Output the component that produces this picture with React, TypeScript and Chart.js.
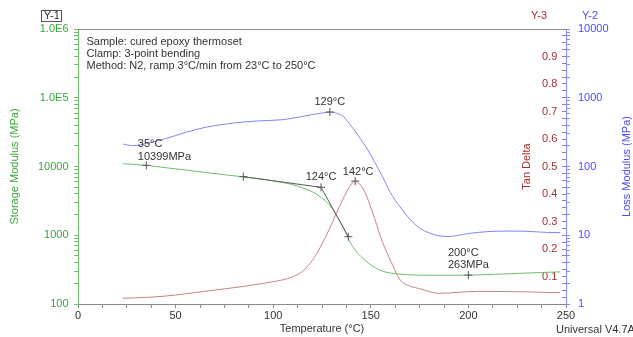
import { useEffect, useRef } from 'react';
import { Chart, registerables } from 'chart.js';

Chart.register(...registerables);

// ---------- data ----------
const TEMPS = [23, 28, 35, 45, 55, 65, 75, 85, 95, 105, 110, 115, 120, 124, 129, 132, 136, 139, 142, 145, 148, 152, 156, 160, 165, 170, 175, 180, 185, 190, 200, 210, 220, 230, 240, 247];
const STORAGE = [11000, 10750, 10399, 9600, 8900, 8200, 7600, 7050, 6500, 5850, 5450, 4900, 4300, 3650, 2700, 2050, 1280, 840, 610, 490, 410, 340, 300, 282, 272, 266, 263, 262, 262, 262, 263, 268, 275, 282, 289, 293];
const LOSS = [212, 201, 215, 255, 312, 370, 412, 445, 464, 480, 505, 535, 570, 592, 620, 600, 530, 420, 326, 244, 184, 115, 71, 42, 25.8, 17.2, 12.7, 10.8, 9.8, 9.6, 10.6, 11.3, 11.5, 11.4, 11.0, 10.9];
const TAN = [0.021, 0.022, 0.024, 0.029, 0.037, 0.046, 0.055, 0.064, 0.075, 0.088, 0.099, 0.119, 0.158, 0.205, 0.276, 0.324, 0.385, 0.425, 0.447, 0.43, 0.39, 0.31, 0.225, 0.16, 0.088, 0.065, 0.056, 0.045, 0.039, 0.04, 0.045, 0.046, 0.045, 0.044, 0.042, 0.041];

const TANGENT_T = [84.7, 124.5, 138.5];
const TANGENT_E = [7110, 4980, 952];

const STORAGE_MARK_T = [35, 84.7, 124.5, 138.5, 200];
const STORAGE_MARK_E = [10399, 7110, 4980, 952, 263];
const LOSS_MARK_T = [129];
const LOSS_MARK_E = [620];
const TAN_MARK_T = [142];
const TAN_MARK_V = [0.447];

const X_MAJOR = [0, 50, 100, 150, 200, 250];
const Y1_TICK_VALUES = [100, 1000, 10000, 100000, 1000000];
const Y1_TICK_LABELS = ['100', '1000', '10000', '1.0E5', '1.0E6'];
const Y2_TICK_VALUES = [1, 10, 100, 1000, 10000];
const Y2_TICK_LABELS = ['1', '10', '100', '1000', '10000'];
const Y3_TICK_VALUES = [0.1, 0.2, 0.3, 0.4, 0.5, 0.6, 0.7, 0.8, 0.9];
const Y3_TICK_LABELS = ['0.1', '0.2', '0.3', '0.4', '0.5', '0.6', '0.7', '0.8', '0.9'];

const HEADER_LINES = [
  'Sample: cured epoxy thermoset',
  'Clamp: 3-point bending',
  'Method: N2, ramp 3°C/min from 23°C to 250°C',
];

// annotation texts anchored on data points
const ANNOTATIONS = [
  { axis: 'y1', x: 35, y: 10399, lines: ['35°C', '10399MPa'] },
  { axis: 'y2', x: 129, y: 620, lines: ['129°C'] },
  { axis: 'y1', x: 124.5, y: 4980, lines: ['124°C'] },
  { axis: 'y3', x: 142, y: 0.447, lines: ['142°C'] },
  { axis: 'y1', x: 200, y: 263, lines: ['200°C', '263MPa'] },
];
// layout for each annotation (pixel offsets)
const ANNOT_LAYOUT = [
  { align: 'left', dx: -8.5, dy: -21, lh: 12.5 },
  { align: 'center', dx: 0, dy: -10, lh: 12 },
  { align: 'center', dx: 0, dy: -10, lh: 12 },
  { align: 'center', dx: 3, dy: -9.5, lh: 12 },
  { align: 'left', dx: -20.5, dy: -22, lh: 12 },
];

// ---------- styles ----------
const FONT = '"Liberation Sans", Arial, Helvetica, sans-serif';
const GREEN = '#3aa63a';
const GREEN_LINE = '#6cbf6c';
const BLUE = '#4b4bff';
const BLUE_LINE = '#8383f6';
const BLUE_AXIS = '#8c8cff';
const RED = '#a33030';
const RED_LINE = '#c98282';
const GRAY = '#8a8a8a';
const TEXT = '#333333';
const MARK = '#555555';

function logTicks(min: number, max: number) {
  const out: { value: number }[] = [];
  const e0 = Math.round(Math.log10(min));
  const e1 = Math.round(Math.log10(max));
  for (let e = e0; e < e1; e++) {
    const p = Math.pow(10, e);
    for (let m = 1; m < 10; m++) out.push({ value: m * p });
  }
  out.push({ value: max });
  return out;
}

function labelFor(value: number, values: number[], labels: string[]) {
  for (let i = 0; i < values.length; i++) {
    if (Math.abs(value - values[i]) <= Math.abs(values[i]) * 1e-6) return labels[i];
  }
  return '';
}

const overlay = {
  id: 'overlay',
  afterDraw(chart: any) {
    const { ctx, chartArea: ca, scales } = chart;
    ctx.save();
    // top frame line
    ctx.strokeStyle = GRAY;
    ctx.lineWidth = 1;
    ctx.beginPath();
    ctx.moveTo(ca.left, Math.round(ca.top) + 0.5);
    ctx.lineTo(ca.right, Math.round(ca.top) + 0.5);
    ctx.stroke();

    ctx.font = `11px ${FONT}`;
    ctx.textBaseline = 'middle';
    ctx.fillStyle = TEXT;
    ctx.textAlign = 'left';
    HEADER_LINES.forEach((t, i) => ctx.fillText(t, ca.left + 8.5, ca.top + 12.7 + i * 12));

    ANNOTATIONS.forEach((a, k) => {
      const lay = ANNOT_LAYOUT[k];
      const px = scales.x.getPixelForValue(a.x);
      const py = scales[a.axis].getPixelForValue(a.y);
      ctx.textAlign = lay.align;
      a.lines.forEach((t, i) => ctx.fillText(t, px + lay.dx, py + lay.dy + i * lay.lh));
    });

    // axis ids
    ctx.textAlign = 'center';
    ctx.fillStyle = TEXT;
    ctx.fillText('Y-1', 51.7, 16.2);
    ctx.strokeStyle = '#555';
    ctx.strokeRect(41.5, 10.5, 20, 11);
    ctx.fillStyle = RED;
    ctx.fillText('Y-3', 539, 16.2);
    ctx.fillStyle = BLUE;
    ctx.fillText('Y-2', 590, 16.2);

    // right axis titles (bottom-to-top)
    const rot = (t: string, x: number, y: number, c: string) => {
      ctx.save();
      ctx.translate(x, y);
      ctx.rotate(-Math.PI / 2);
      ctx.fillStyle = c;
      ctx.textAlign = 'center';
      ctx.fillText(t, 0, 0);
      ctx.restore();
    };
    const cy = (ca.top + ca.bottom) / 2;
    rot('Tan Delta', ca.right - 39.5, cy, RED);
    rot('Loss Modulus (MPa)', ca.right + 61, cy, BLUE);

    ctx.fillStyle = TEXT;
    ctx.textAlign = 'left';
    ctx.fillText('Universal V4.7A', 556, 329.5);
    ctx.restore();
  },
};

export default function App() {
  const ref = useRef<HTMLCanvasElement | null>(null);

  useEffect(() => {
    document.body.style.margin = '0';
    if (!ref.current) return;
    Chart.defaults.font.family = FONT;
    Chart.defaults.font.size = 11;

    const pts = (xs: number[], ys: number[]) => xs.map((x, i) => ({ x, y: ys[i] }));
    const markStyle = {
      showLine: false,
      pointStyle: 'cross',
      pointRadius: 4,
      pointBorderWidth: 1,
      pointBorderColor: MARK,
      borderColor: MARK,
    };

    const chart = new Chart(ref.current, {
      type: 'line',
      data: {
        datasets: [
          { ...markStyle, data: pts(STORAGE_MARK_T, STORAGE_MARK_E), yAxisID: 'y1' },
          { ...markStyle, data: pts(LOSS_MARK_T, LOSS_MARK_E), yAxisID: 'y2' },
          { ...markStyle, data: pts(TAN_MARK_T, TAN_MARK_V), yAxisID: 'y3' },
          {
            data: pts(TANGENT_T, TANGENT_E), yAxisID: 'y1', borderColor: '#5a5a5a',
            borderWidth: 1, pointRadius: 0, tension: 0,
          },
          {
            data: pts(TEMPS, STORAGE), yAxisID: 'y1', borderColor: GREEN_LINE,
            borderWidth: 1, pointRadius: 0, cubicInterpolationMode: 'monotone',
          },
          {
            data: pts(TEMPS, LOSS), yAxisID: 'y2', borderColor: BLUE_LINE,
            borderWidth: 1, pointRadius: 0, cubicInterpolationMode: 'monotone',
          },
          {
            data: pts(TEMPS, TAN), yAxisID: 'y3', borderColor: RED_LINE,
            borderWidth: 1, pointRadius: 0, cubicInterpolationMode: 'monotone',
          },
        ],
      } as any,
      options: {
        animation: false,
        responsive: true,
        maintainAspectRatio: false,
        events: [],
        layout: { padding: { top: 29, left: 0, right: 0, bottom: 0 } },
        plugins: { legend: { display: false }, tooltip: { enabled: false } },
        scales: {
          x: {
            type: 'linear',
            position: 'bottom',
            min: 0,
            max: 250,
            afterFit: (s: any) => { s.height = 33; },
            afterBuildTicks: (s: any) => {
              const t: { value: number }[] = [];
              for (let i = 0; i <= 20; i++) t.push({ value: i * 12.5 });
              s.ticks = t;
            },
            ticks: {
              autoSkip: false,
              maxRotation: 0,
              padding: 1,
              color: TEXT,
              font: { size: 11 },
              callback: (v: any) => (X_MAJOR.includes(Number(v)) ? String(v) : ''),
            },
            grid: { drawOnChartArea: false, drawTicks: true, tickLength: 4, color: GRAY },
            border: { color: GRAY },
            title: { display: true, text: 'Temperature (°C)', color: TEXT, font: { size: 11 }, padding: { top: 0, bottom: 1 } },
          },
          y1: {
            type: 'logarithmic',
            position: 'left',
            min: 100,
            max: 1000000,
            afterFit: (s: any) => { s.width = 78; },
            afterBuildTicks: (s: any) => { s.ticks = logTicks(100, 1000000); },
            ticks: {
              autoSkip: false,
              padding: 5.5,
              color: GREEN,
              font: { size: 11 },
              callback: (v: any) => labelFor(Number(v), Y1_TICK_VALUES, Y1_TICK_LABELS),
            },
            grid: { drawOnChartArea: false, drawTicks: true, tickLength: 4, color: GREEN_LINE },
            border: { color: GREEN_LINE },
            title: { display: true, text: 'Storage Modulus (MPa)', color: GREEN, font: { size: 11 }, padding: { top: 8.4, bottom: 0 } },
          },
          y3: {
            type: 'linear',
            position: 'right',
            weight: 0,
            min: 0,
            max: 1,
            afterFit: (s: any) => { s.width = 0; },
            afterBuildTicks: (s: any) => {
              const t: { value: number }[] = [];
              for (let i = 0; i <= 40; i++) t.push({ value: i / 40 });
              s.ticks = t;
            },
            ticks: {
              autoSkip: false,
              mirror: true,
              padding: -8.7,
              color: RED,
              font: { size: 11 },
              callback: (v: any) => labelFor(Number(v), Y3_TICK_VALUES, Y3_TICK_LABELS),
            },
            grid: { drawOnChartArea: false, drawTicks: true, tickLength: -4, color: '#8080d8' },
            border: { display: false },
          },
          y2: {
            type: 'logarithmic',
            position: 'right',
            weight: 1,
            min: 1,
            max: 10000,
            afterFit: (s: any) => { s.width = 67; },
            afterBuildTicks: (s: any) => { s.ticks = logTicks(1, 10000); },
            ticks: {
              autoSkip: false,
              padding: 8,
              color: BLUE,
              font: { size: 11 },
              callback: (v: any) => labelFor(Number(v), Y2_TICK_VALUES, Y2_TICK_LABELS),
            },
            grid: { drawOnChartArea: false, drawTicks: true, tickLength: 4, color: BLUE_AXIS },
            border: { color: BLUE_AXIS },
          },
        },
      } as any,
      plugins: [overlay as any],
    });
    return () => chart.destroy();
  }, []);

  return (
    <div style={{ position: 'absolute', left: 0, top: 0, width: 633, height: 337 }}>
      <canvas ref={ref} />
    </div>
  );
}
